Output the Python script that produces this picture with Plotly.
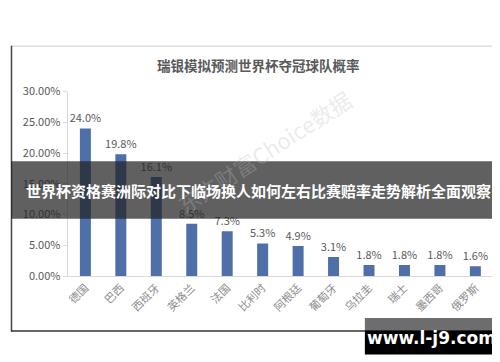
import plotly.graph_objects as go

countries = ["德国", "巴西", "西班牙", "英格兰", "法国", "比利时", "阿根廷", "葡萄牙", "乌拉圭", "瑞士", "墨西哥", "俄罗斯"]
probabilities = [0.240, 0.198, 0.161, 0.085, 0.073, 0.053, 0.049, 0.031, 0.018, 0.018, 0.018, 0.016]
y_ticks = [0.0, 0.05, 0.10, 0.15, 0.20, 0.25, 0.30]
chart_title = "瑞银模拟预测世界杯夺冠球队概率"
banner_text = "世界杯资格赛洲际对比下临场换人如何左右比赛赔率走势解析全面观察"
site_text = "www.l-j9.com"

W, H = 500, 362
def px(x):
    return x / W
def py(y):
    return 1 - y / H

FONT = "Noto Sans CJK SC, Microsoft YaHei, sans-serif"

fig = go.Figure()
fig.add_trace(go.Bar(
    x=countries, y=probabilities,
    marker=dict(color="#4f6fa8", line=dict(width=0)),
    width=0.31,
    text=[f"{v*100:.1f}%" for v in probabilities],
    textposition="outside",
    textangle=0,
    constraintext="none",
    textfont=dict(size=11, color="#595959", family=FONT),
    cliponaxis=False,
))

fig.update_layout(
    width=W, height=H,
    margin=dict(l=0, r=0, t=0, b=0),
    paper_bgcolor="white", plot_bgcolor="white",
    showlegend=False,
    font=dict(family=FONT),
    xaxis=dict(
        domain=[px(57), px(485)], range=[-0.5, 11.5],
        tickangle=-45, tickfont=dict(size=11, color="#8c8c8c"),
        showline=True, linecolor="#d9d9d9", linewidth=1,
        ticks="", showgrid=False, zeroline=False, fixedrange=True,
    ),
    yaxis=dict(
        domain=[py(271), py(78)], range=[0, 0.30],
        tickvals=y_ticks, tickformat=".2%",
        tickfont=dict(size=11, color="#595959"),
        showline=True, linecolor="#d9d9d9", linewidth=1,
        ticks="outside", ticklen=4, tickcolor="#d9d9d9",
        showgrid=False, zeroline=False,
    ),
    bargap=0.5,
)

def line(x0, y0, x1, y1, color, width=1):
    return dict(type="line", xref="paper", yref="paper", x0=px(x0), y0=py(y0), x1=px(x1), y1=py(y1),
                line=dict(color=color, width=width), layer="below")

shapes = [
    line(0, 30.5, 499, 30.5, "#cfcfcf"),
    line(0.5, 30, 0.5, 329, "#444444", 1.5),
    line(499, 30, 499, 329, "#444444", 1.5),
    line(0, 328.5, 499, 328.5, "#333333", 1.5),
    dict(type="rect", xref="paper", yref="paper", x0=px(0), x1=px(497), y0=py(211), y1=py(151),
         line=dict(width=0), fillcolor="rgba(35,35,35,0.72)", layer="above"),
    dict(type="rect", xref="paper", yref="paper", x0=px(356), x1=px(491), y0=py(328), y1=py(315),
         line=dict(width=0), fillcolor="rgba(60,60,60,0.75)", layer="above"),
    dict(type="rect", xref="paper", yref="paper", x0=px(356), x1=px(491), y0=py(353), y1=py(328),
         line=dict(width=0), fillcolor="rgba(0,0,0,1)", layer="above"),
]
fig.update_layout(shapes=shapes)

def note(text, x, y, size, color, family=FONT, angle=0):
    return dict(text=text, x=px(x), y=py(y), xref="paper", yref="paper",
                xanchor="center", yanchor="middle", showarrow=False, textangle=angle,
                font=dict(size=size, color=color, family=family))

annotations = [
    note("东方财富Choice数据", 255, 140, 22, "rgba(190,190,190,0.3)", angle=-33),
    note("<b>" + chart_title + "</b>", 249, 50, 13.5, "#595959"),
    note("<b>" + banner_text + "</b>", 249, 181, 15, "white"),
    note("<b>" + site_text + "</b>", 423, 336, 17, "#ffffff", family="DejaVu Sans, sans-serif"),
]
fig.update_layout(annotations=annotations)

fig.write_html("out.html", config={"displayModeBar": False})
